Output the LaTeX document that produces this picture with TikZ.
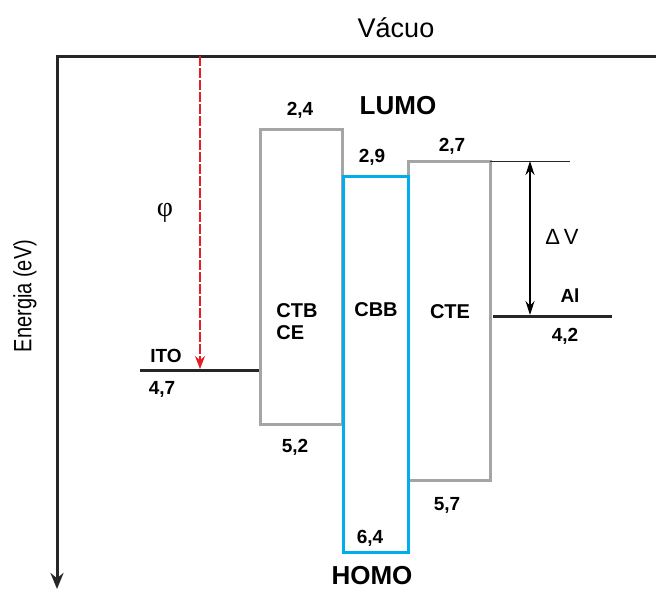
\documentclass[tikz,border=0pt]{standalone}
\usepackage{graphicx}
\usepackage{fontspec}
\setmainfont{Liberation Sans}
\newfontfamily\greekserif{Liberation Serif}
\usetikzlibrary{arrows.meta, positioning}
\definecolor{bandgray}{RGB}{165,165,165}
\definecolor{bandcyan}{RGB}{0,174,239}
\definecolor{phired}{RGB}{228,30,38}

\begin{document}
\begin{tikzpicture}[x=1pt, y=-1pt, >=Stealth,
    band/.style={draw, line width=3pt, inner sep=0pt},
    val/.style={font=\bfseries\fontsize{19}{22}\selectfont, inner sep=1pt},
    lay/.style={font=\bfseries\fontsize{20}{22}\selectfont, inner sep=1pt},
    big/.style={font=\bfseries\fontsize{26}{28}\selectfont, inner sep=1pt},
    level/.style={line width=3pt, black!85}]
  \useasboundingbox (0,0) rectangle (656,589);
  % axes: vacuum level and energy axis
  \coordinate (vend) at (656,56);
  \coordinate (orig) at (57,56);
  \coordinate (ebot) at (57,589);
  \draw[line width=3pt, black!85, -{Stealth[length=16pt, width=13pt]}] (vend) -- (orig) -- (ebot);
  \node[font=\fontsize{27}{29}\selectfont] (vac) at (396,28) {Vácuo};
  \node[font=\fontsize{25}{27}\selectfont, rotate=90] (eax) at (25,296) {\scalebox{0.8}[1]{Energia (eV)}};
  % electrodes
  \coordinate (itoL) at (140,370);
  \coordinate (itoR) at (260,370);
  \draw[level] (itoL) -- (itoR);
  \node[val] (ito) at (166,356) {ITO};
  \node[val] (itov) at (162,389) {4,7};
  \coordinate (alL) at (493,316);
  \coordinate (alR) at (612,316);
  \draw[level] (alL) -- (alR);
  \node[val] (al) at (570,296) {Al};
  \node[val] (alv) at (565,336) {4,2};
  % work function
  \coordinate (phiT) at (200,56);
  \coordinate (phiB) at (200,369);
  \draw[phired, line width=1.6pt, dash pattern=on 10pt off 2pt, -{Stealth[length=13pt, width=10pt]}] (phiT) -- (phiB);
  \node[font=\greekserif\fontsize{28}{30}\selectfont] (phi) at (165,213) {φ};
  % transport layers
  \node[band, draw=bandgray, minimum width=82pt, minimum height=295pt] (ctb) at (301,276.5) {};
  \node[band, draw=bandgray, minimum width=82pt, minimum height=319pt] (cte) at (449,320.5) {};
  \node[band, draw=bandcyan, minimum width=65pt, minimum height=376pt] (cbb) at (375.5,364) {};
  \node[lay, align=left] (ctbl) at (297,322) {CTB\\CE};
  \node[lay] (cbbl) at (376,310) {CBB};
  \node[lay] (ctel) at (450,312) {CTE};
  \node[val] (ctbt) at (300,110) {2,4};
  \node[val] (ctbb) at (295,447) {5,2};
  \node[val] (cbbt) at (372,157) {2,9};
  \node[val] (cbbb) at (370,538) {6,4};
  \node[val] (ctet) at (452,146) {2,7};
  \node[val] (cteb) at (447,505) {5,7};
  \node[big] (lumo) at (398,106) {LUMO};
  \node[big] (homo) at (372,576) {HOMO};
  % offset to the cathode
  \coordinate (dvL) at (490,161);
  \coordinate (dvR) at (570,161);
  \draw[line width=1pt, black!85] (dvL) -- (dvR);
  \coordinate (dvT) at (530,161);
  \coordinate (dvB) at (530,315);
  \draw[line width=1.1pt, {Stealth[length=14pt, width=9pt]}-{Stealth[length=14pt, width=9pt]}] (dvT) -- (dvB);
  \node[font=\fontsize{22}{24}\selectfont] (dv) at (562,237) {Δ\,V};
\end{tikzpicture}
\end{document}
